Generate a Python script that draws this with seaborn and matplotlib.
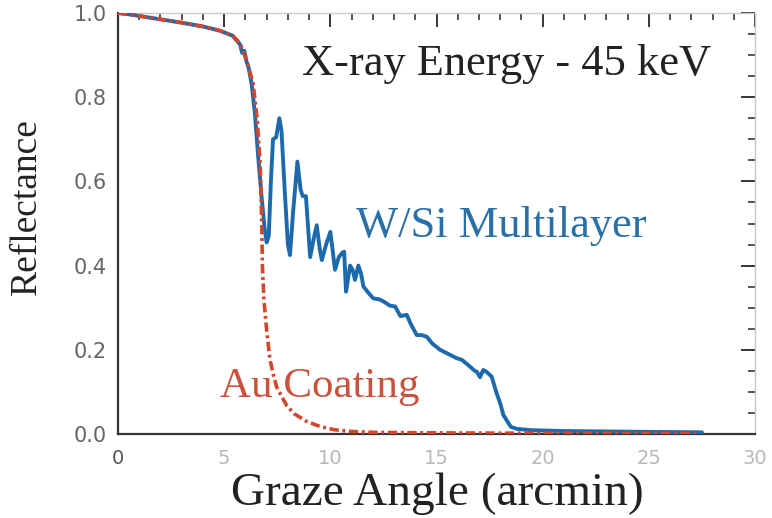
import numpy as np
import pandas as pd
import matplotlib
matplotlib.use("Agg")
import matplotlib.pyplot as plt
import seaborn as sns
from matplotlib.ticker import MultipleLocator

# ---------------- data ----------------
wsi_x = [0.0, 0.5, 1.0, 2.0, 3.0, 4.0, 4.8, 5.4, 5.75, 5.85, 5.95, 6.05, 6.15, 6.3,
         6.45, 6.6, 6.75, 6.9, 7.0, 7.1, 7.2, 7.3, 7.45, 7.6, 7.7, 7.85, 8.0, 8.1,
         8.25, 8.45, 8.6, 8.7, 8.85, 9.05, 9.2, 9.36, 9.5, 9.6, 9.8, 10.0, 10.1,
         10.22, 10.4, 10.55, 10.65, 10.74, 10.93, 11.05, 11.16, 11.32, 11.45, 11.56,
         11.8, 12.03, 12.3, 12.5, 12.8, 13.05, 13.3, 13.6, 13.8, 14.07, 14.3, 14.54,
         14.8, 15.17, 15.64, 15.95, 16.2, 16.58, 16.8, 16.9, 17.05, 17.2, 17.35, 17.6,
         17.83, 18.0, 18.15, 18.3, 18.5, 18.8, 19.5, 21.0, 23.0, 25.0, 27.5]
wsi_y = [1.0, 0.997, 0.993, 0.985, 0.977, 0.968, 0.958, 0.946, 0.925, 0.905, 0.91,
         0.885, 0.87, 0.83, 0.76, 0.66, 0.57, 0.49, 0.455, 0.47, 0.60, 0.70, 0.705,
         0.75, 0.72, 0.58, 0.45, 0.425, 0.53, 0.647, 0.58, 0.565, 0.565, 0.42, 0.46,
         0.496, 0.44, 0.413, 0.45, 0.48, 0.44, 0.39, 0.42, 0.43, 0.433, 0.338, 0.40,
         0.39, 0.366, 0.40, 0.38, 0.35, 0.335, 0.322, 0.32, 0.315, 0.305, 0.303,
         0.28, 0.283, 0.26, 0.235, 0.235, 0.231, 0.215, 0.20, 0.188, 0.18, 0.176,
         0.16, 0.15, 0.148, 0.135, 0.152, 0.148, 0.136, 0.097, 0.073, 0.045, 0.033,
         0.017, 0.012, 0.009, 0.007, 0.006, 0.005, 0.004]

au_x = [0.0, 1.0, 2.0, 3.0, 4.0, 4.8, 5.4, 5.75, 6.05, 6.36, 6.55, 6.7, 6.77, 6.8,
        6.87, 7.0, 7.16, 7.32, 7.47, 7.7, 7.94, 8.3, 8.88, 9.5, 10.2, 11.0, 12.0,
        14.0, 18.0, 22.0, 27.2]
au_y = [1.0, 0.993, 0.985, 0.977, 0.968, 0.958, 0.946, 0.928, 0.888, 0.834, 0.75,
        0.64, 0.50, 0.40, 0.32, 0.247, 0.176, 0.14, 0.112, 0.09, 0.068, 0.048, 0.03,
        0.018, 0.01, 0.006, 0.004, 0.003, 0.002, 0.002, 0.001]

x_ticks = [0, 5, 10, 15, 20, 25, 30]
x_tick_labels = ["0", "5", "10", "15", "20", "25", "30"]
y_ticks = [0.0, 0.2, 0.4, 0.6, 0.8, 1.0]
y_tick_labels = ["0.0", "0.2", "0.4", "0.6", "0.8", "1.0"]

title_text = "X-ray Energy - 45 keV"
wsi_label = "W/Si Multilayer"
au_label = "Au Coating"
x_label = "Graze Angle (arcmin)"
y_label = "Reflectance"

# ---------------- styling ----------------
sns.set_style("white")
plt.rcParams["font.family"] = ["Liberation Sans", "DejaVu Sans"]

blue = "#1c6aab"
red = "#d4462c"

fig = plt.figure(figsize=(7.72, 5.18), dpi=100)
ax = fig.add_axes([118 / 772, 1 - 434 / 518, (755 - 118) / 772, (434 - 13) / 518])

df_wsi = pd.DataFrame({"angle": wsi_x, "refl": wsi_y})
df_au = pd.DataFrame({"angle": au_x, "refl": au_y})

sns.lineplot(data=df_wsi, x="angle", y="refl", ax=ax, color=blue, linewidth=2.8,
             estimator=None, sort=False, zorder=3)
sns.lineplot(data=df_au, x="angle", y="refl", ax=ax, color=red, linewidth=2.6,
             estimator=None, sort=False, zorder=4,
             linestyle=(0, (2.6, 1.0, 0.8, 1.0)))

ax.set_xlim(0, 30)
ax.set_ylim(0, 1.0)
ax.set_xticks(x_ticks, x_tick_labels)
ax.set_yticks(y_ticks, y_tick_labels)
ax.xaxis.set_minor_locator(MultipleLocator(1))
ax.yaxis.set_minor_locator(MultipleLocator(0.05))

ax.tick_params(which="both", direction="in", top=True, right=True)
ax.tick_params(which="major", length=10, width=1.3)
ax.tick_params(which="minor", length=5, width=1.1)
ax.tick_params(axis="x", which="major", pad=11, labelsize=14)
ax.tick_params(axis="y", which="major", pad=8, labelsize=15)

for lab in ax.get_xticklabels():
    lab.set_family("DejaVu Sans")
    lab.set_color("#b8b8b8")
ax.get_xticklabels()[0].set_color("#555555")
for lab in ax.get_yticklabels():
    lab.set_family("DejaVu Sans")
    lab.set_color("#666666")

for side in ["left", "bottom"]:
    ax.spines[side].set_color("#333333")
    ax.spines[side].set_linewidth(1.6)
for side in ["top", "right"]:
    ax.spines[side].set_color("#c8c8c8")
    ax.spines[side].set_linewidth(1.0)

for t in ax.yaxis.get_major_ticks() + ax.yaxis.get_minor_ticks():
    t.tick1line.set_color("#333333")
    t.tick2line.set_color("#c8c8c8")
for t in ax.xaxis.get_major_ticks() + ax.xaxis.get_minor_ticks():
    t.tick1line.set_color("#555555")
    t.tick2line.set_color("#cfcfcf")

serif = ["Liberation Serif", "DejaVu Serif"]
ax.text(18.32, 0.853, title_text, ha="center", va="baseline", fontsize=32,
        family=serif, color="#222222")
ax.text(18.07, 0.468, wsi_label, ha="center", va="baseline", fontsize=32,
        family=serif, color="#2a70a8")
ax.text(9.5, 0.088, au_label, ha="center", va="baseline", fontsize=31,
        family=serif, color="#c9523c")

ax.set_xlabel(x_label, fontsize=34, family=serif, color="#222222")
ax.set_ylabel(y_label, fontsize=27, family=serif, color="#222222")
ax.xaxis.label.set_va("center")
ax.xaxis.set_label_coords(0.502, -0.1425)
ax.yaxis.label.set_va("center")
ax.yaxis.set_label_coords(-0.143, 0.54)

fig.savefig("out.png", dpi=100, facecolor="white")
